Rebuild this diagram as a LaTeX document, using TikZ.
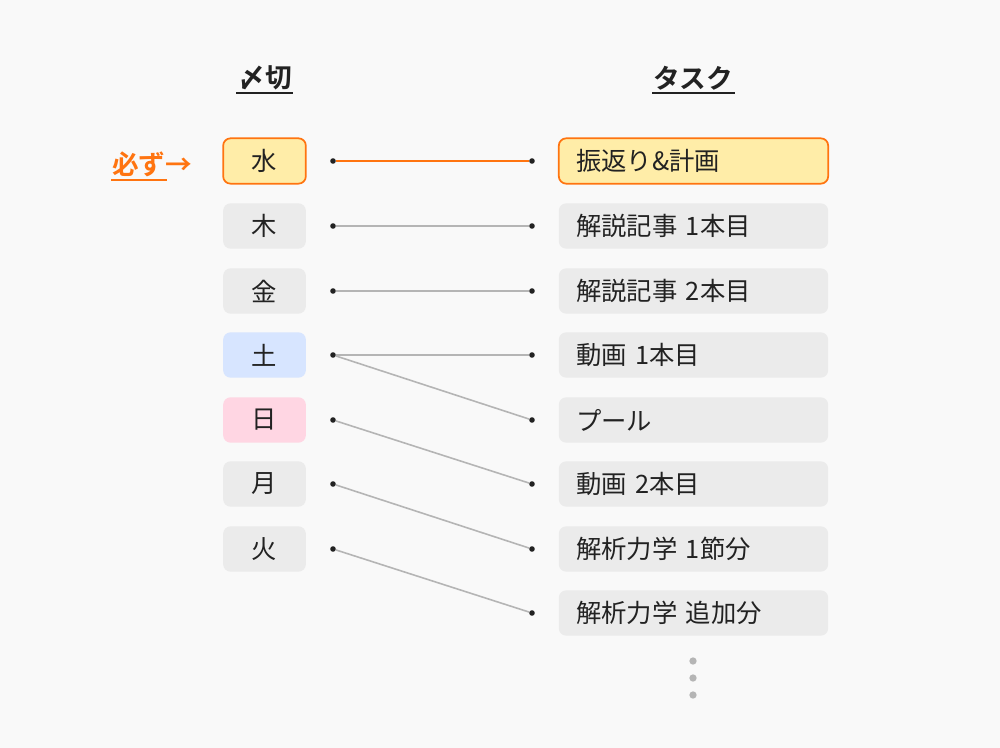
\documentclass[tikz,border=0pt]{standalone}
\usepackage{fontspec}
\setmainfont{Noto Sans CJK JP}
\newfontfamily\jpbold{Noto Sans CJK JP Bold}
\usetikzlibrary{positioning}

\definecolor{bgcol}{HTML}{F9F9F9}
\definecolor{accent}{HTML}{FF7410}
\definecolor{hilite}{HTML}{FFEDA8}
\definecolor{boxgray}{HTML}{EBEBEB}
\definecolor{satcol}{HTML}{D7E5FF}
\definecolor{suncol}{HTML}{FFD6E3}
\definecolor{linkgray}{HTML}{B5B5B5}
\definecolor{ink}{HTML}{222222}

\begin{document}
\begin{tikzpicture} [ x=0.75pt, y=-0.75pt,
		      every node/.style={text=ink, font=\fontsize{19}{22}\selectfont},
		      day/.style={rounded corners=5.5pt, minimum width=62pt, minimum height=34pt, inner sep=0pt},
		      task/.style={rounded corners=5.5pt, minimum width=202pt, minimum height=34pt, inner sep=0pt, text width=176pt, align=left},
		      plain/.style={fill=boxgray},
		      must/.style={fill=hilite, draw=accent, line width=1.3pt},
		      head/.style={font=\jpbold\fontsize{20}{22}\selectfont},
		      dot/.style={circle, fill=ink, inner sep=0pt, minimum size=4.2pt},
		      link/.style={draw=linkgray, line width=1.2pt},
		      more/.style={circle, fill=linkgray, inner sep=0pt, minimum size=5.5pt}
		    ]
  \fill[bgcol] (0,0) rectangle (1000,748);

  % headers
  \node[head] (hdl) at (265,78) {〆切};
  \draw[ink, line width=1.5pt] (236,93) -- (293,93);
  \node[head] (hdr) at (693,78) {タスク};
  \draw[ink, line width=1.5pt] (652,93) -- (735,93);

  % days
  \node[day,must]  (d1) at (264.5,161) {水};
  \node[day,plain] (d2) at (264.5,226) {木};
  \node[day,plain] (d3) at (264.5,291) {金};
  \node[day,fill=satcol] (d4) at (264.5,355) {土};
  \node[day,fill=suncol] (d5) at (264.5,420) {日};
  \node[day,plain] (d6) at (264.5,484) {月};
  \node[day,plain] (d7) at (264.5,549) {火};

  % tasks
  \node[task,must]  (t1) at (693.5,161) {振返り\&計画};
  \node[task,plain] (t2) at (693.5,226) {解説記事 1本目};
  \node[task,plain] (t3) at (693.5,291) {解説記事 2本目};
  \node[task,plain] (t4) at (693.5,355) {動画 1本目};
  \node[task,plain] (t5) at (693.5,420) {プール};
  \node[task,plain] (t6) at (693.5,484) {動画 2本目};
  \node[task,plain] (t7) at (693.5,549) {解析力学 1節分};
  \node[task,plain] (t8) at (693.5,613) {解析力学 追加分};

  % dots
  \node[dot] (l1) at (333,161) {}; \node[dot] (r1) at (532,161) {};
  \node[dot] (l2) at (333,226) {}; \node[dot] (r2) at (532,226) {};
  \node[dot] (l3) at (333,291) {}; \node[dot] (r3) at (532,291) {};
  \node[dot] (l4) at (333,355) {}; \node[dot] (r4) at (532,355) {};
  \node[dot] (l5) at (333,420) {}; \node[dot] (r5) at (532,420) {};
  \node[dot] (l6) at (333,484) {}; \node[dot] (r6) at (532,484) {};
  \node[dot] (l7) at (333,549) {}; \node[dot] (r7) at (532,549) {};
                                   \node[dot] (r8) at (532,613) {};

  % links
  \draw[accent, line width=1.3pt] (l1) -- (r1);
  \draw[link] (l2) -- (r2);
  \draw[link] (l3) -- (r3);
  \draw[link] (l4) -- (r4);
  \draw[link] (l4) -- (r5);
  \draw[link] (l5) -- (r6);
  \draw[link] (l6) -- (r7);
  \draw[link] (l7) -- (r8);

  % must marker
  \node[text=accent, font=\jpbold\fontsize{20}{22}\selectfont, anchor=west, inner sep=0pt] (mk) at (112,164) {必ず→};
  \draw[accent, line width=1.5pt] (111,180) -- (167,180);

  % more
  \node[more] (m1) at (693,661) {};
  \node[more] (m2) at (693,678) {};
  \node[more] (m3) at (693,695) {};
\end{tikzpicture}
\end{document}
